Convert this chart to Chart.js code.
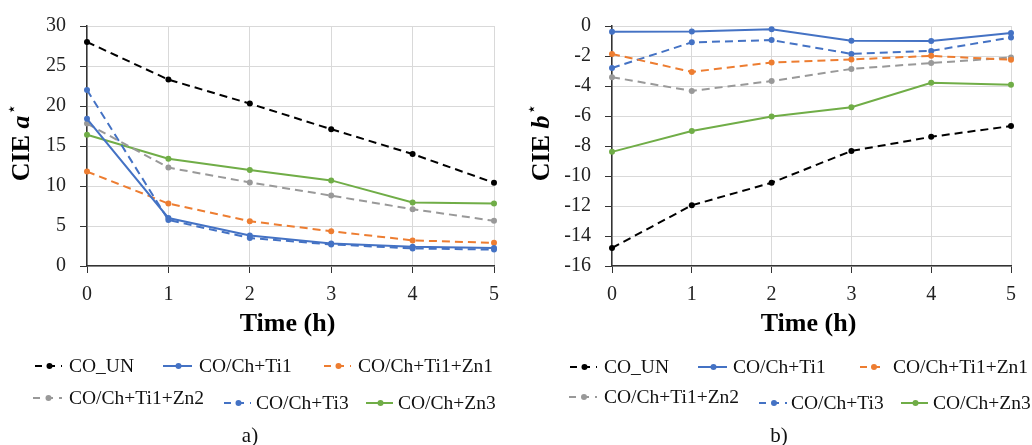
<!DOCTYPE html>
<html>
<head>
<meta charset="utf-8">
<script src="https://cdn.jsdelivr.net/npm/chart.js@4.4.1/dist/chart.umd.min.js"></script>
<style>
  html, body { margin: 0; padding: 0; background: #fff; }
  #wrap { position: relative; width: 1032px; height: 445px; overflow: hidden; }
  .box { position: absolute; top: 0; width: 516px; height: 445px; }
  #boxA { left: 0; }
  #boxB { left: 516px; }
</style>
</head>
<body>
<div id="wrap">
  <div class="box" id="boxA"><canvas id="chartA"></canvas></div>
  <div class="box" id="boxB"><canvas id="chartB"></canvas></div>
</div>
<script>
// ---------- DATA ----------
const timeLabels = ['0', '1', '2', '3', '4', '5'];
const seriesNames = ['CO_UN', 'CO/Ch+Ti1', 'CO/Ch+Ti1+Zn1', 'CO/Ch+Ti1+Zn2', 'CO/Ch+Ti3', 'CO/Ch+Zn3'];

// CIE a*
const aCO_UN   = [28.0, 23.3, 20.3, 17.1, 14.0, 10.4];
const aTi1     = [18.4, 6.0, 3.8, 2.8, 2.4, 2.25];
const aTi1Zn1  = [11.8, 7.8, 5.6, 4.35, 3.2, 2.9];
const aTi1Zn2  = [17.8, 12.3, 10.45, 8.8, 7.1, 5.65];
const aTi3     = [22.0, 5.75, 3.5, 2.7, 2.2, 2.05];
const aZn3     = [16.4, 13.4, 12.0, 10.7, 7.95, 7.8];

// CIE b*
const bCO_UN   = [-14.8, -11.95, -10.45, -8.33, -7.39, -6.67];
const bTi1     = [-0.39, -0.37, -0.22, -0.98, -1.0, -0.46];
const bTi1Zn1  = [-1.86, -3.06, -2.43, -2.23, -1.99, -2.25];
const bTi1Zn2  = [-3.41, -4.33, -3.67, -2.86, -2.47, -2.1];
const bTi3     = [-2.8, -1.09, -0.94, -1.86, -1.66, -0.77];
const bZn3     = [-8.39, -7.0, -6.03, -5.42, -3.78, -3.91];

// ---------- STYLE ----------
const SERIF = '"Liberation Serif", "Times New Roman", serif';
const styles = [
  { color: '#000000', dash: [8, 5] },
  { color: '#4472C4', dash: [] },
  { color: '#ED7D31', dash: [8, 5] },
  { color: '#999999', dash: [8, 5] },
  { color: '#4472C4', dash: [8, 5] },
  { color: '#70AD47', dash: [] }
];

function makeDatasets(arrs) {
  return arrs.map((d, i) => ({
    label: seriesNames[i],
    data: d,
    borderColor: styles[i].color,
    backgroundColor: styles[i].color,
    borderDash: styles[i].dash,
    borderWidth: 2,
    pointRadius: 3,
    pointHoverRadius: 3,
    pointBorderWidth: 0,
    tension: 0
  }));
}

// legend layout (pixels relative to each canvas): [x0, x1, textX, y]
const legendLayoutA = [
  [35, 62, 69, 366], [163, 192, 199, 366], [324, 351, 358, 366],
  [33, 62, 69, 398], [224, 251, 256, 403], [366, 393, 398, 403]
];
const legendLayoutB = [
  [54, 81, 88, 367], [182, 211, 217, 367], [344, 370, 377, 367],
  [53, 81, 88, 397], [243, 271, 275, 403], [385, 412, 417, 403]
];

function decorPlugin(cfg) {
  return {
    id: 'decor' + cfg.caption,
    afterDraw(chart) {
      const ctx = chart.ctx;
      const ca = chart.chartArea;
      ctx.save();
      // x title
      ctx.fillStyle = '#000';
      ctx.font = 'bold 26px ' + SERIF;
      ctx.textAlign = 'center';
      ctx.textBaseline = 'middle';
      ctx.fillText('Time (h)', (ca.left + ca.right) / 2 - 3, 324);

      // y title (rotated, mixed fonts)
      const cy = (ca.top + ca.bottom) / 2 - 3;
      ctx.save();
      ctx.translate(cfg.yTitleX, cy);
      ctx.rotate(-Math.PI / 2);
      const f1 = 'bold 26px ' + SERIF;
      const f2 = 'italic bold 26px ' + SERIF;
      const f3 = '17px "DejaVu Sans", sans-serif';
      ctx.font = f1; const w1 = ctx.measureText('CIE ').width;
      ctx.font = f2; const w2 = ctx.measureText(cfg.letter).width;
      ctx.font = f3; const w3 = ctx.measureText('\u22C6').width;
      let x = -(w1 + w2 + w3) / 2;
      ctx.textAlign = 'left';
      ctx.textBaseline = 'alphabetic';
      ctx.font = f1; ctx.fillText('CIE ', x, 9); x += w1;
      ctx.font = f2; ctx.fillText(cfg.letter, x, 9); x += w2 + 1;
      ctx.font = f3; ctx.fillText('\u22C6', x, -3);
      ctx.restore();

      // legend
      ctx.font = '19.5px ' + SERIF;
      ctx.textAlign = 'left';
      ctx.textBaseline = 'middle';
      cfg.legend.forEach((p, i) => {
        const st = styles[i];
        ctx.strokeStyle = st.color;
        ctx.lineWidth = 2;
        ctx.setLineDash(st.dash.length ? [7, 6] : []);
        ctx.beginPath();
        ctx.moveTo(p[0], p[3]);
        ctx.lineTo(p[1], p[3]);
        ctx.stroke();
        ctx.setLineDash([]);
        ctx.fillStyle = st.color;
        ctx.beginPath();
        ctx.arc((p[0] + p[1]) / 2 + 1, p[3], 3, 0, Math.PI * 2);
        ctx.fill();
        ctx.fillStyle = '#111';
        ctx.fillText(seriesNames[i], p[2], p[3] + 1);
      });

      // caption
      ctx.font = '21px ' + SERIF;
      ctx.textAlign = 'center';
      ctx.fillStyle = '#111';
      ctx.fillText(cfg.caption, cfg.captionX, 436);
      ctx.restore();
    }
  };
}

function makeChart(id, arrs, yMin, yMax, step, leftW, rightPad, cfg) {
  return new Chart(document.getElementById(id), {
    type: 'line',
    data: { labels: timeLabels, datasets: makeDatasets(arrs) },
    options: {
      responsive: true,
      maintainAspectRatio: false,
      animation: false,
      events: [],
      layout: { padding: { left: 0, right: rightPad, top: 22, bottom: 0 } },
      plugins: { legend: { display: false }, tooltip: { enabled: false } },
      scales: {
        x: {
          type: 'category',
          offset: false,
          grid: { color: '#d9d9d9', lineWidth: 1, tickColor: '#333', tickLength: 7, drawTicks: true },
          border: { color: '#333', width: 1.5 },
          ticks: { font: { family: SERIF, size: 20 }, color: '#222', padding: 10, maxRotation: 0 },
          afterFit(s) { s.height = 445 - 266; }
        },
        y: {
          min: yMin, max: yMax,
          grid: { color: '#d9d9d9', lineWidth: 1, tickColor: '#333', tickLength: 7, drawTicks: true },
          border: { color: '#333', width: 1.5 },
          ticks: { stepSize: step, font: { family: SERIF, size: 20 }, color: '#222', padding: 14 },
          afterFit(s) { s.width = leftW; }
        }
      }
    },
    plugins: [decorPlugin(cfg)]
  });
}

makeChart('chartA', [aCO_UN, aTi1, aTi1Zn1, aTi1Zn2, aTi3, aZn3], 0, 30, 5, 87, 22,
  { caption: 'a)', captionX: 250, letter: 'a', yTitleX: 20, legend: legendLayoutA });
makeChart('chartB', [bCO_UN, bTi1, bTi1Zn1, bTi1Zn2, bTi3, bZn3], -16, 0, 2, 96, 21,
  { caption: 'b)', captionX: 263, letter: 'b', yTitleX: 24, legend: legendLayoutB });
</script>
</body>
</html>
